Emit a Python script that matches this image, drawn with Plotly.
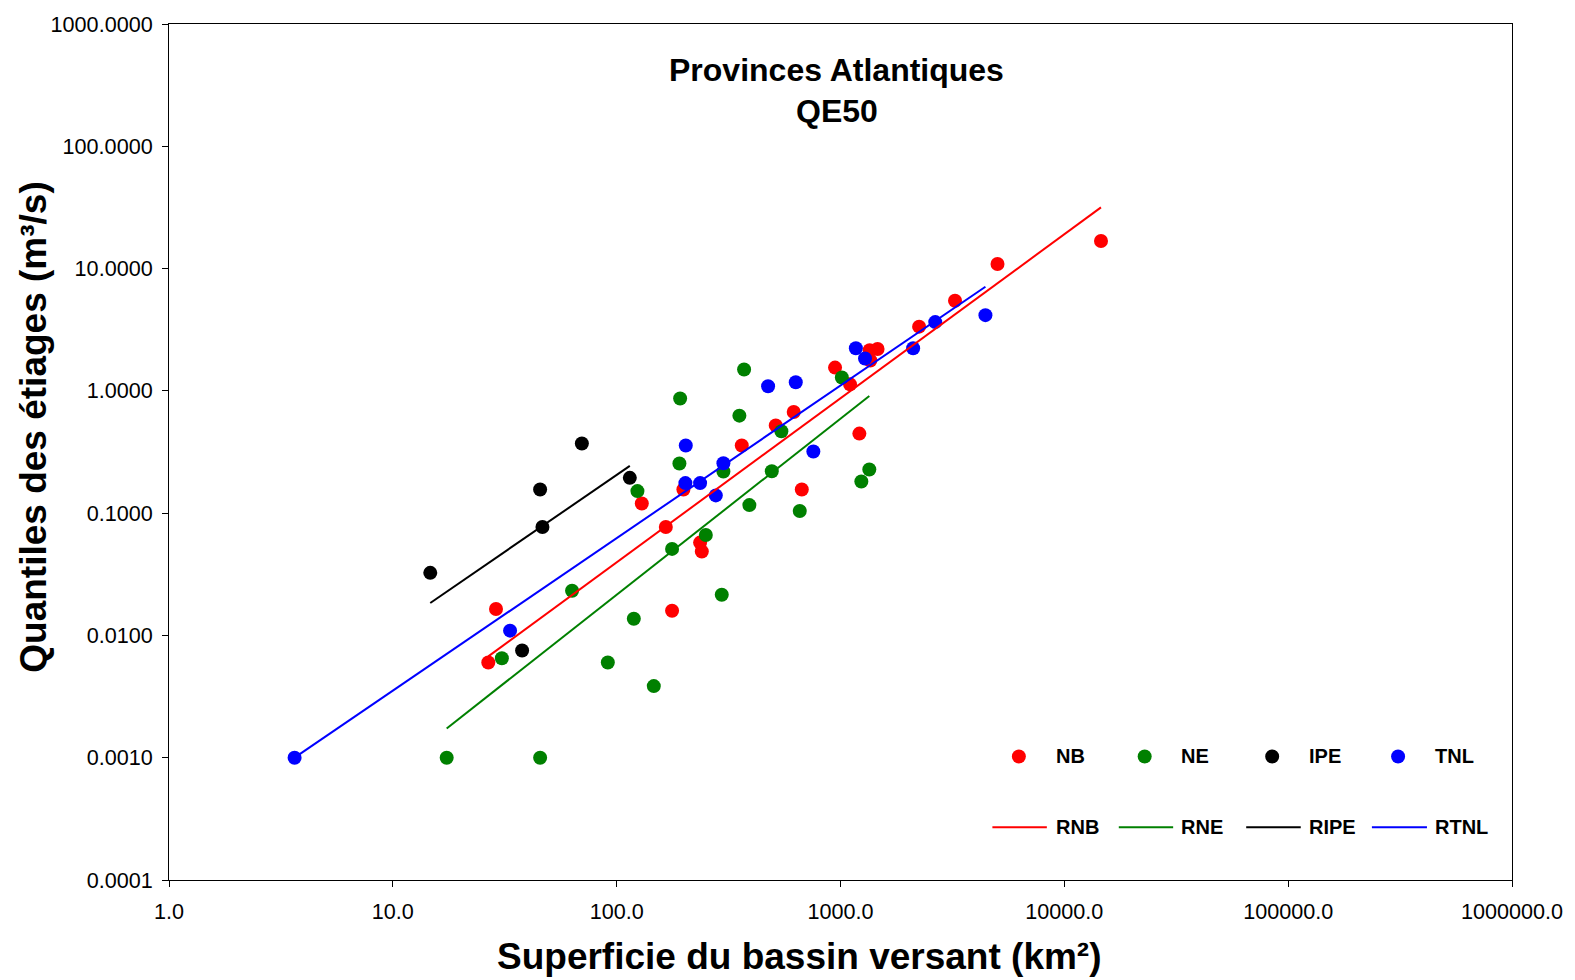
import numpy as np
import plotly.graph_objects as go

# Drainage area (km²) and low-flow quantile QE50 (m³/s) for each province
nb_area = [14580, 5028, 3248, 2245, 1464, 1350, 1359, 945.6, 1103, 618, 513.7, 362.2,
           1214, 671.5, 198.7, 129.5, 165.8, 235.9, 240.1, 176.8, 28.9, 26.7]
nb_q = [16.8, 10.9, 5.46, 3.35, 2.20, 2.15, 1.77, 1.55, 1.13, 0.671, 0.522, 0.357,
        0.447, 0.156, 0.156, 0.120, 0.077, 0.0574, 0.0485, 0.0159, 0.01644, 0.0060]

ne_area = [370.9, 1014, 192.1, 353.4, 544.3, 190.7, 299.8, 493.2, 1345, 1239, 123.8, 391.6,
           657.7, 250.2, 176.8, 63.2, 294.8, 119.3, 91.3, 30.7, 146.5, 17.4, 45.5]
ne_q = [1.494, 1.286, 0.867, 0.627, 0.467, 0.2546, 0.219, 0.2203, 0.2275, 0.1816, 0.1514, 0.1164,
        0.104, 0.0663, 0.051, 0.0232, 0.0215, 0.0137, 0.0060, 0.00651, 0.00385, 0.001, 0.001]

ipe_area = [14.7, 45.5, 46.6, 69.9, 114.5, 37.8]
ipe_q = [0.0325, 0.156, 0.077, 0.3706, 0.1943, 0.00752]

tnl_area = [3.64, 33.4, 203.6, 202.8, 235.9, 277.3, 299.8, 756.3, 474.8, 631.1, 1171, 1287,
            2111, 2650, 4441]
tnl_q = [0.001, 0.01094, 0.357, 0.176, 0.176, 0.1397, 0.256, 0.319, 1.092, 1.177, 2.23, 1.837,
         2.23, 3.65, 4.16]

# Power-law regressions log10(Q) = log_a + b * log10(A)
reg_names = ["RNB", "RNE", "RIPE", "RTNL"]
reg_log_a = [-4.0852, -4.5468, -3.2017, -3.6995]
reg_b = [1.3415, 1.4398, 1.2570, 1.2476]

group_names = ["NB", "NE", "IPE", "TNL"]
group_colors = ["#FF0000", "#008000", "#000000", "#0000FF"]
group_area = [nb_area, ne_area, ipe_area, tnl_area]
group_q = [nb_q, ne_q, ipe_q, tnl_q]

x_ticks = [1, 10, 100, 1000, 10000, 100000, 1000000]
y_ticks = [0.0001, 0.001, 0.01, 0.1, 1, 10, 100, 1000]

FONT = "Arial, Liberation Sans, sans-serif"
W, H = 1575, 980
ML, MR, MT, MB = 169, 62, 21, 100
PW, PH = W - ML - MR, H - MT - MB


def px(x):
    return (x - ML) / PW


def py(y):
    return 1 - (y - MT) / PH


fig = go.Figure()

for name, color, area, q in zip(group_names, group_colors, group_area, group_q):
    fig.add_trace(go.Scatter(x=area, y=q, mode="markers", name=name,
                             marker=dict(size=14, color=color, line=dict(width=0))))

for rname, color, area, la, b in zip(reg_names, group_colors, group_area, reg_log_a, reg_b):
    xs = np.array([min(area), max(area)])
    ys = 10 ** (la + b * np.log10(xs))
    fig.add_trace(go.Scatter(x=xs, y=ys, mode="lines", name=rname,
                             line=dict(color=color, width=2)))

axis_common = dict(type="log", showline=True, linecolor="black", linewidth=1, mirror=True,
                   ticks="outside", ticklen=6, tickwidth=1, tickcolor="black",
                   showgrid=False, zeroline=False,
                   tickfont=dict(family=FONT, size=21.6, color="black"))

fig.update_xaxes(range=[0, 6], tickvals=x_ticks,
                 ticktext=[f"{v:.1f}" for v in x_ticks], ticklabelstandoff=6, **axis_common)
fig.update_yaxes(range=[-4, 3], tickvals=y_ticks,
                 ticktext=[f"{v:.4f}" for v in y_ticks], ticklabelstandoff=5, **axis_common)

annotations = [
    dict(text="Provinces Atlantiques", x=px(837), y=py(67)),
    dict(text="QE50", x=px(837), y=py(108)),
]
annotations = [dict(a, xref="paper", yref="paper", showarrow=False, xanchor="center",
                    yanchor="middle", font=dict(family=FONT, size=32, color="black", weight="bold"))
               for a in annotations]

annotations.append(dict(text="Superficie du bassin versant (km²)", x=px(800), y=py(957),
                        xref="paper", yref="paper", showarrow=False, xanchor="center",
                        yanchor="middle",
                        font=dict(family=FONT, size=37, color="black", weight="bold")))
annotations.append(dict(text="Quantiles des étiages (m³/s)", x=px(33), y=py(426),
                        xref="paper", yref="paper", showarrow=False, textangle=-90,
                        xanchor="center", yanchor="middle",
                        font=dict(family=FONT, size=37, color="black", weight="bold")))

# Custom two-row key: markers on top, regression lines below
shapes = []
marker_cx = [1019.5, 1145.4, 1273, 1399]
text_x = [1054.6, 1179.8, 1307.9, 1433.5]
line_x0 = [993, 1119.5, 1247, 1372.8]
line_x1 = [1047.5, 1173.9, 1301.6, 1427.9]
row1_y, row2_y = 756, 827

for name, rname, color, cx, tx, lx0, lx1 in zip(group_names, reg_names, group_colors,
                                                 marker_cx, text_x, line_x0, line_x1):
    shapes.append(dict(type="circle", xref="paper", yref="paper",
                       xsizemode="pixel", ysizemode="pixel",
                       xanchor=px(cx), yanchor=py(row1_y), x0=-7, x1=7, y0=-7, y1=7,
                       fillcolor=color, line=dict(width=0)))
    shapes.append(dict(type="line", xref="paper", yref="paper",
                       x0=px(lx0), x1=px(lx1), y0=py(row2_y), y1=py(row2_y),
                       line=dict(color=color, width=2)))
    for label, yy in ((name, row1_y), (rname, row2_y)):
        annotations.append(dict(text=label, x=px(tx), y=py(yy), xref="paper", yref="paper",
                                showarrow=False, xanchor="left", yanchor="middle",
                                font=dict(family=FONT, size=20, color="black", weight="bold")))

fig.update_layout(width=W, height=H, margin=dict(l=ML, r=MR, t=MT, b=MB),
                  paper_bgcolor="white", plot_bgcolor="white", showlegend=False,
                  annotations=annotations, shapes=shapes)

fig.write_html("out.html")
